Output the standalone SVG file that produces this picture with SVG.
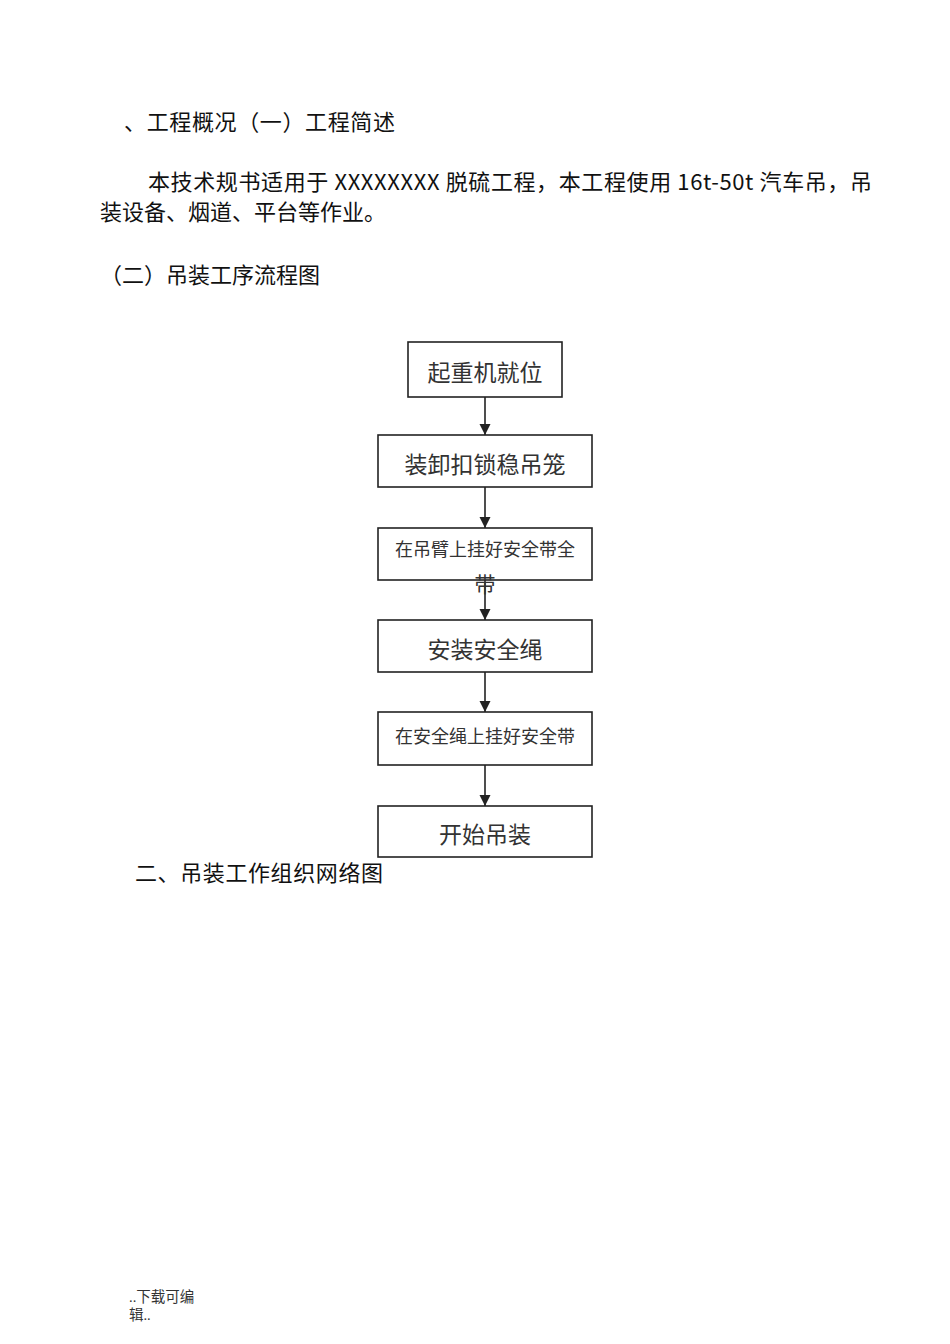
<svg xmlns="http://www.w3.org/2000/svg" width="950" height="1344" viewBox="0 0 950 1344">
<defs>
<marker id="ah" markerWidth="12" markerHeight="12" refX="11" refY="6" orient="auto" markerUnits="userSpaceOnUse">
<path d="M0,0.5 L11,6 L0,11.5 Z" fill="#222"/>
</marker>
<style>
.t{font-family:"Noto Sans CJK SC","Noto Sans",sans-serif;font-size:22px;fill:#111}
.b{font-family:"Liberation Serif","Noto Sans CJK SC",serif;fill:#333;text-anchor:middle}
.box{fill:#fff;stroke:#222;stroke-width:1.6}
.c{stroke:#222;stroke-width:1.6;fill:none}
.f{font-family:"Liberation Serif","Noto Sans CJK SC",serif;font-size:14.5px;fill:#333}
</style>
</defs>
<rect width="950" height="1344" fill="#fff"/>
<text class="t" x="124" y="130" textLength="271" lengthAdjust="spacing">、工程概况（一）工程简述</text>
<text class="t" x="148" y="190" textLength="724" lengthAdjust="spacing">本技术规书适用于 XXXXXXXX 脱硫工程，本工程使用 16t-50t 汽车吊，吊</text>
<text class="t" x="100" y="220">装设备、烟道、平台等作业。</text>
<text class="t" x="100" y="283">（二）吊装工序流程图</text>
<g id="connectors">
<line class="c" x1="485" y1="397" x2="485" y2="435" marker-end="url(#ah)"/>
<line class="c" x1="485" y1="487" x2="485" y2="528" marker-end="url(#ah)"/>
<line class="c" x1="485" y1="580" x2="485" y2="620" marker-end="url(#ah)"/>
<line class="c" x1="485" y1="672" x2="485" y2="712" marker-end="url(#ah)"/>
<line class="c" x1="485" y1="765" x2="485" y2="806" marker-end="url(#ah)"/>
</g>
<g id="n1"><rect class="box" x="408" y="342" width="154" height="55" stroke-width="2.2"/><text class="b" x="485" y="381" font-size="23">起重机就位</text></g>
<g id="n2"><rect class="box" x="378" y="435" width="214" height="52"/><text class="b" x="485" y="473" font-size="23">装卸扣锁稳吊笼</text></g>
<g id="n3"><rect class="box" x="378" y="528" width="214" height="52"/><text class="b" x="485" y="556" font-size="18">在吊臂上挂好安全带全</text><text class="b" x="485" y="592" font-size="21">带</text></g>
<g id="n4"><rect class="box" x="378" y="620" width="214" height="52"/><text class="b" x="485" y="658" font-size="23">安装安全绳</text></g>
<g id="n5"><rect class="box" x="378" y="712" width="214" height="53"/><text class="b" x="485" y="743" font-size="18">在安全绳上挂好安全带</text></g>
<g id="n6"><rect class="box" x="378" y="806" width="214" height="51"/><text class="b" x="485" y="843" font-size="23">开始吊装</text></g>
<text class="t" x="135" y="881" textLength="248" lengthAdjust="spacing">二、吊装工作组织网络图</text>
<text class="f" x="129" y="1302">..下载可编</text>
<text class="f" x="129" y="1320">辑..</text>
</svg>
